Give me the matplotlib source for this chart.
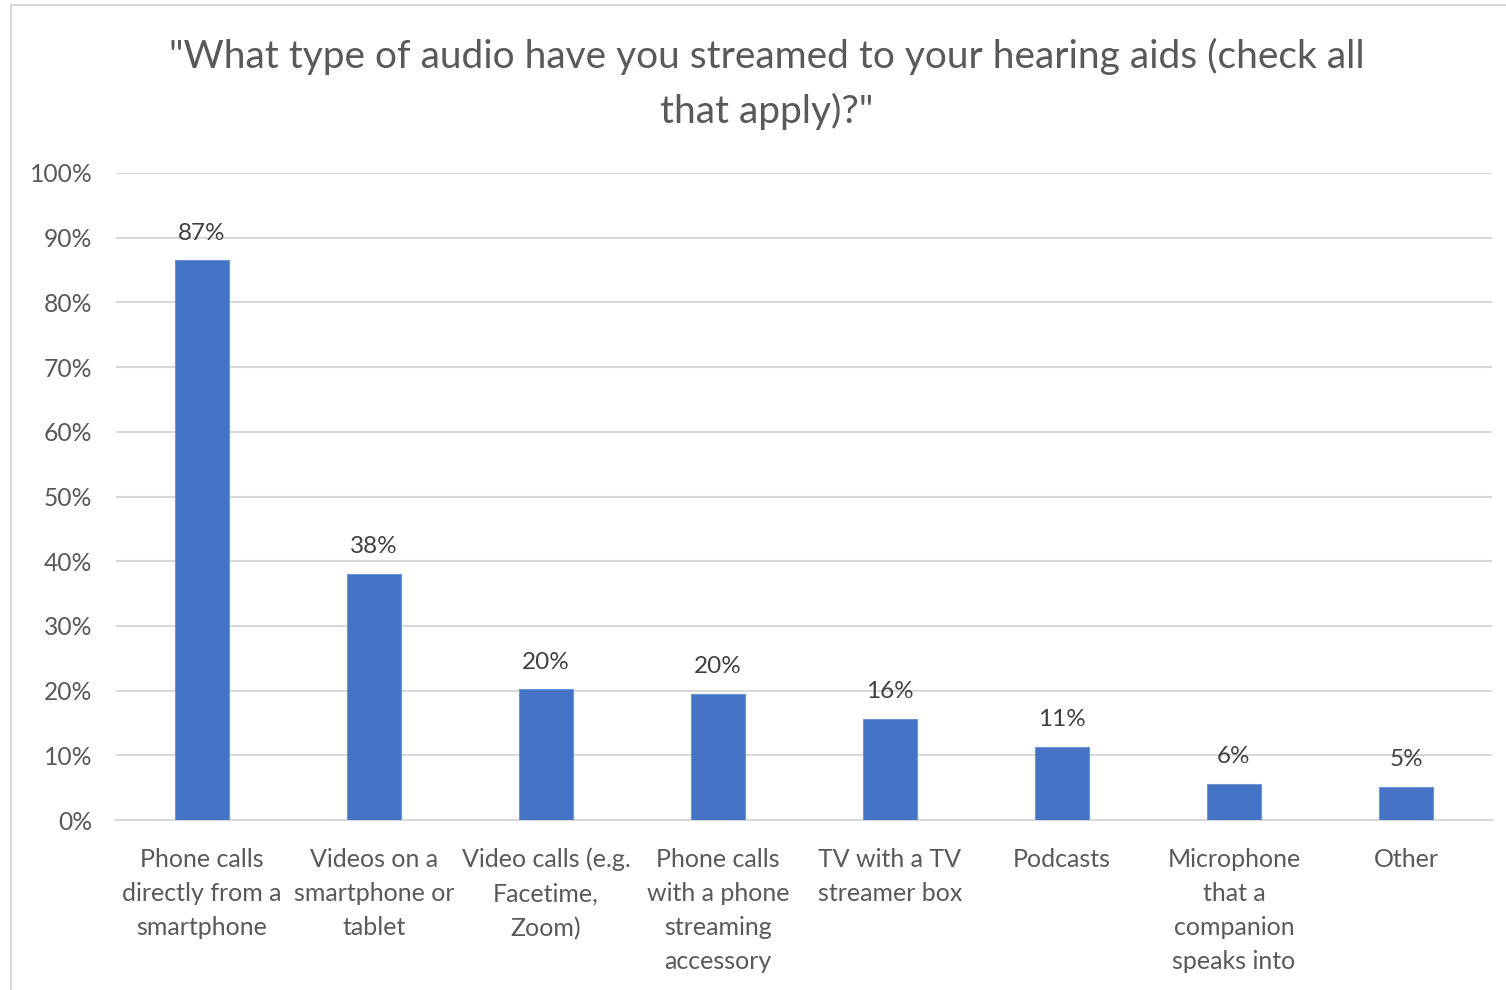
import matplotlib.pyplot as plt
from matplotlib.ticker import PercentFormatter
from matplotlib.patches import Rectangle

categories = ['Phone calls\ndirectly from a\nsmartphone',
              'Videos on a\nsmartphone or\ntablet',
              'Video calls (e.g.\nFacetime,\nZoom)',
              'Phone calls\nwith a phone\nstreaming\naccessory',
              'TV with a TV\nstreamer box',
              'Podcasts',
              'Microphone\nthat a\ncompanion\nspeaks into',
              'Other']
values = [86.5, 38.0, 20.2, 19.5, 15.6, 11.3, 5.6, 5.1]
value_labels = ['87%', '38%', '20%', '20%', '16%', '11%', '6%', '5%']
yticks = [0, 10, 20, 30, 40, 50, 60, 70, 80, 90, 100]

plt.rcParams['font.family'] = ['Lato', 'DejaVu Sans']

fig = plt.figure(figsize=(15.06, 9.9), dpi=100)
# chart border (cut off at right and bottom like the original)
fig.patches.append(Rectangle((11 / 1506, -0.1), 1.2, 985 / 990 + 0.1,
                             transform=fig.transFigure, fill=False,
                             edgecolor='#D9D9D9', linewidth=1.5))
ax = fig.add_axes([116 / 1506, 170 / 990, 1376 / 1506, 647 / 990])

x = range(len(categories))
ax.bar(x, values, width=0.315, color='#4472C4', edgecolor='#6f94d6', linewidth=0.8, zorder=3)

for xi, v, lab in zip(x, values, value_labels):
    ax.annotate(lab, (xi, v), xytext=(0, 12), textcoords='offset points',
                ha='center', va='bottom', fontsize=17.5, color='#404040')

ax.set_xlim(-0.5, len(categories) - 0.5)
ax.set_ylim(0, 100)
ax.set_yticks(yticks)
ax.yaxis.set_major_formatter(PercentFormatter(decimals=0))
ax.set_xticks(list(x))
ax.set_xticklabels(categories, fontsize=18, color='#595959', linespacing=1.58)
ax.tick_params(axis='y', labelsize=17.7, labelcolor='#595959', length=0, pad=17)
ax.tick_params(axis='x', length=0, pad=20)
ax.grid(axis='y', color='#D9D9D9', linewidth=1.5, zorder=0)
for s in ['top', 'right', 'left']:
    ax.spines[s].set_visible(False)
ax.spines['bottom'].set_color('#D9D9D9')
ax.spines['bottom'].set_linewidth(1.5)

fig.text(767 / 1506, 1 - 84 / 990,
         '"What type of audio have you streamed to your hearing aids (check all\nthat apply)?"',
         ha='center', va='center', fontsize=28, color='#595959', linespacing=1.59)

fig.savefig('out.png', dpi=100)
